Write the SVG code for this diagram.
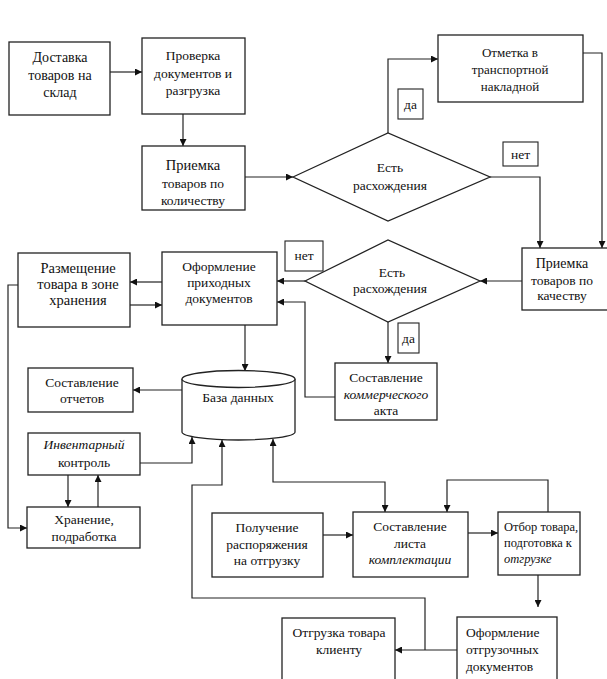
<svg xmlns="http://www.w3.org/2000/svg" width="607" height="679" viewBox="0 0 607 679" font-family="'Liberation Serif', 'Times New Roman', serif">
<defs>
<style>
.box{fill:#fff;stroke:#222;stroke-width:1.3}
.lbl{fill:#fff;stroke:#222;stroke-width:1.1}
.t{font-family:"Liberation Serif","Times New Roman",serif;font-size:13.5px;fill:#111;text-anchor:middle}
.tl{text-anchor:start}
.i{font-style:italic}
.c{fill:none;stroke:#222;stroke-width:1.2}
</style>
<marker id="a" viewBox="0 0 10 10" refX="10" refY="5" markerWidth="8" markerHeight="7" markerUnits="userSpaceOnUse" orient="auto-start-reverse">
<path d="M0,0 L10,5 L0,10 z" fill="#111"/>
</marker>
</defs>
<rect width="607" height="679" fill="#fff"/>

<g id="connectors">
<path class="c" d="M110,72 H142" marker-end="url(#a)"/>
<path class="c" d="M183,114 V146" marker-end="url(#a)"/>
<path class="c" d="M245,177 H293" marker-end="url(#a)"/>
<path class="c" d="M388,133 V59 H438" marker-end="url(#a)"/>
<path class="c" d="M583,53 H602 V248" marker-end="url(#a)"/>
<path class="c" d="M490,177 H540 V248" marker-end="url(#a)"/>
<path class="c" d="M522,281 H480" marker-end="url(#a)"/>
<path class="c" d="M305,281 H277" marker-end="url(#a)"/>
<path class="c" d="M388,322 V363" marker-end="url(#a)"/>
<path class="c" d="M335,397 H305 V302 H277" marker-end="url(#a)"/>
<path class="c" d="M162,282 H130" marker-end="url(#a)"/>
<path class="c" d="M130,305 H162" marker-end="url(#a)"/>
<path class="c" d="M18,285 H8 V528 H27" marker-end="url(#a)"/>
<path class="c" d="M245,325 V371" marker-end="url(#a)"/>
<path class="c" d="M182,390 H133" marker-end="url(#a)"/>
<path class="c" d="M140,463 H192 V437" marker-end="url(#a)"/>
<path class="c" d="M68,475 V507" marker-end="url(#a)"/>
<path class="c" d="M98,507 V475" marker-end="url(#a)"/>
<path class="c" d="M425,650 V598 H192 V485 H222 V440" marker-end="url(#a)"/>
<path class="c" d="M457,650 H395" marker-end="url(#a)"/>
<path class="c" d="M273,439 V482 H385 V512" marker-start="url(#a)" marker-end="url(#a)"/>
<path class="c" d="M323,535 H353" marker-end="url(#a)"/>
<path class="c" d="M468,533 H498" marker-end="url(#a)"/>
<path class="c" d="M548,512 V480 H447 V512" marker-end="url(#a)"/>
<path class="c" d="M538,575 V607" marker-end="url(#a)"/>
</g>

<g id="dostavka">
<rect class="box" x="9" y="42" width="101" height="73"/>
<text class="t" x="60" y="62" style="font-size:14px">Доставка</text>
<text class="t" x="60" y="80" style="font-size:14px">товаров на</text>
<text class="t" x="60" y="97" style="font-size:14px">склад</text>
</g>

<g id="proverka">
<rect class="box" x="142" y="38" width="103" height="76"/>
<text class="t" x="193" y="60">Проверка</text>
<text class="t" x="193" y="78">документов и</text>
<text class="t" x="193" y="95">разгрузка</text>
</g>

<g id="priemka-kol">
<rect class="box" x="142" y="146" width="103" height="64"/>
<text class="t" x="193" y="170" style="font-size:14.5px">Приемка</text>
<text class="t" x="193" y="188">товаров по</text>
<text class="t" x="193" y="205">количеству</text>
</g>

<g id="otmetka">
<rect class="box" x="438" y="35" width="145" height="67"/>
<text class="t" x="510" y="57" style="font-size:13px">Отметка в</text>
<text class="t" x="510" y="74" style="font-size:13px">транспортной</text>
<text class="t" x="510" y="91" style="font-size:13px">накладной</text>
</g>

<g id="diamond1">
<polygon class="box" points="293,177 388,133 490,177 388,221"/>
<text class="t" x="390" y="172">Есть</text>
<text class="t" x="390" y="190">расхождения</text>
</g>

<g id="label-da1">
<rect class="lbl" x="398" y="89" width="25" height="30"/>
<text class="t" x="410.5" y="109">да</text>
</g>

<g id="label-net1">
<rect class="lbl" x="503" y="142" width="35" height="24"/>
<text class="t" x="520.5" y="159">нет</text>
</g>

<g id="priemka-kach">
<rect class="box" x="522" y="248" width="88" height="62"/>
<text class="t" x="562" y="268" style="font-size:14px">Приемка</text>
<text class="t" x="562" y="285">товаров по</text>
<text class="t" x="562" y="300">качеству</text>
</g>

<g id="diamond2">
<polygon class="box" points="305,281 388,240 480,281 388,322"/>
<text class="t" x="392" y="277">Есть</text>
<text class="t" x="390" y="293">расхождения</text>
</g>

<g id="label-net2">
<rect class="lbl" x="285" y="241" width="38" height="30"/>
<text class="t" x="304" y="260">нет</text>
</g>

<g id="label-da2">
<rect class="lbl" x="398" y="323" width="21" height="30"/>
<text class="t" x="408.5" y="343">да</text>
</g>

<g id="akt">
<rect class="box" x="335" y="363" width="102" height="57"/>
<text class="t" x="386" y="382">Составление</text>
<text class="t i" x="386" y="399">коммерческого</text>
<text class="t" x="386" y="415">акта</text>
</g>

<g id="razmeshchenie">
<rect class="box" x="18" y="253" width="112" height="74"/>
<text class="t" x="78" y="273" style="font-size:14.5px">Размещение</text>
<text class="t" x="78" y="289" style="font-size:14.5px">товара в зоне</text>
<text class="t" x="78" y="305" style="font-size:14.5px">хранения</text>
</g>

<g id="oformlenie-prih">
<rect class="box" x="162" y="252" width="115" height="73"/>
<text class="t" x="219" y="271">Оформление</text>
<text class="t" x="219" y="287">приходных</text>
<text class="t" x="219" y="303">документов</text>
</g>

<g id="baza">
<path class="box" d="M182,379 V432 A56.5,8 0 0 0 295,432 V379"/>
<ellipse class="box" cx="238.5" cy="379" rx="56.5" ry="8.5"/>
<text class="t" x="238" y="402">База данных</text>
</g>

<g id="otchety">
<rect class="box" x="28" y="368" width="105" height="44"/>
<text class="t" x="82" y="387">Составление</text>
<text class="t" x="82" y="403">отчетов</text>
</g>

<g id="inventar">
<rect class="box" x="28" y="433" width="112" height="42"/>
<text class="t i" x="84" y="449">Инвентарный</text>
<text class="t" x="84" y="467">контроль</text>
</g>

<g id="hranenie">
<rect class="box" x="27" y="507" width="113" height="41"/>
<text class="t" x="84" y="524">Хранение,</text>
<text class="t" x="84" y="541">подработка</text>
</g>

<g id="poluchenie">
<rect class="box" x="212" y="513" width="111" height="64"/>
<text class="t" x="267" y="532">Получение</text>
<text class="t" x="267" y="549">распоряжения</text>
<text class="t" x="267" y="565">на отгрузку</text>
</g>

<g id="list-kompl">
<rect class="box" x="353" y="512" width="115" height="65"/>
<text class="t" x="410" y="531">Составление</text>
<text class="t" x="410" y="548">листа</text>
<text class="t i" x="410" y="564">комплектации</text>
</g>

<g id="otbor">
<rect class="box" x="498" y="512" width="82" height="63"/>
<text class="t tl" x="504" y="531" style="font-size:12.5px">Отбор товара,</text>
<text class="t tl" x="504" y="547" style="font-size:12.5px">подготовка к</text>
<text class="t tl i" x="504" y="563" style="font-size:12.5px">отгрузке</text>
</g>

<g id="oformlenie-otgr">
<rect class="box" x="457" y="617" width="100" height="75"/>
<text class="t tl" x="466" y="637">Оформление</text>
<text class="t tl" x="466" y="654">отгрузочных</text>
<text class="t tl" x="466" y="671">документов</text>
</g>

<g id="otgruzka">
<rect class="box" x="282" y="618" width="113" height="75"/>
<text class="t" x="339" y="637">Отгрузка товара</text>
<text class="t" x="339" y="654">клиенту</text>
</g>
</svg>
